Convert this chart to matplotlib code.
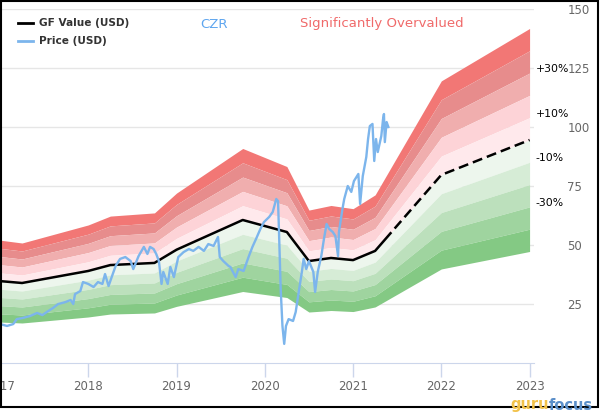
import numpy as np
import matplotlib
matplotlib.use('Agg')
import matplotlib.pyplot as plt
from matplotlib.lines import Line2D
from matplotlib.patches import Rectangle
import matplotlib.transforms as mtransforms

# GF Value (USD)
gf_dates = [2017.0, 2017.25, 2018.0, 2018.25, 2018.75, 2019.0, 2019.75, 2020.25,
            2020.5, 2020.75, 2021.0, 2021.25, 2022.0, 2023.0]
gf_vals = [34.7, 33.9, 39.0, 41.5, 42.4, 48.0, 60.6, 55.5,
           43.2, 44.5, 43.6, 47.5, 79.7, 94.5]
today = 2021.40

# Price (USD)
price_dates = [2017.00, 2017.08, 2017.15, 2017.19, 2017.26, 2017.34, 2017.42, 2017.48,
               2017.53, 2017.60, 2017.66, 2017.74, 2017.80, 2017.83, 2017.85, 2017.91,
               2017.94, 2018.00, 2018.06, 2018.11, 2018.16, 2018.19, 2018.23, 2018.27,
               2018.31, 2018.36, 2018.42, 2018.48, 2018.51, 2018.57, 2018.63, 2018.67,
               2018.70, 2018.74, 2018.77, 2018.80, 2018.83, 2018.85, 2018.90, 2018.93,
               2018.97, 2019.02, 2019.08, 2019.14, 2019.19, 2019.25, 2019.31, 2019.36,
               2019.42, 2019.47, 2019.49, 2019.53, 2019.59, 2019.61, 2019.67, 2019.70,
               2019.76, 2019.82, 2019.86, 2019.90, 2019.95, 2019.99, 2020.05, 2020.09,
               2020.13, 2020.15, 2020.16, 2020.18, 2020.20, 2020.22, 2020.24, 2020.27,
               2020.32, 2020.35, 2020.39, 2020.42, 2020.44, 2020.47, 2020.50, 2020.55,
               2020.57, 2020.60, 2020.64, 2020.67, 2020.70, 2020.73, 2020.77, 2020.80,
               2020.83, 2020.84, 2020.88, 2020.90, 2020.94, 2020.98, 2021.01, 2021.06,
               2021.08, 2021.11, 2021.15, 2021.17, 2021.19, 2021.22, 2021.24, 2021.26,
               2021.28, 2021.32, 2021.34, 2021.35, 2021.36, 2021.38, 2021.40]
price_vals = [16.5, 15.7, 16.5, 18.6, 19.1, 19.9, 21.2, 20.3,
              21.6, 23.3, 25.0, 25.8, 26.7, 25.0, 29.2, 30.5,
              34.3, 33.5, 32.2, 34.3, 33.5, 37.7, 32.6, 36.9,
              41.1, 44.1, 44.9, 43.2, 39.8, 45.3, 49.2, 46.2,
              49.2, 48.3, 46.2, 43.2, 33.5, 38.6, 33.5, 40.7,
              36.4, 44.9, 47.0, 48.3, 47.5, 49.2, 47.5, 50.4,
              49.6, 53.4, 44.9, 43.2, 41.1, 40.7, 36.4, 39.8,
              39.0, 45.3, 49.2, 52.5, 56.8, 59.7, 61.9, 64.0,
              69.5, 68.6, 56.8, 31.4, 15.7, 8.1, 15.7, 18.6,
              17.8, 21.6, 31.4, 38.6, 44.1, 39.8, 43.2, 38.6,
              30.1, 38.6, 45.3, 52.5, 58.9, 56.8, 55.5, 53.8,
              45.3, 55.5, 65.3, 69.5, 75.0, 72.5, 77.1, 80.1,
              67.4, 79.2, 87.3, 94.9, 100.4, 101.3, 85.6, 94.9,
              89.4, 96.2, 103.4, 105.5, 93.6, 102.1, 100.0]

# band edges as multiples of GF value, top (overvalued) to bottom
band_edges = [1.5, 1.4, 1.3, 1.2, 1.1, 1.0, 0.9, 0.8, 0.7, 0.6, 0.5]
band_colors = ['#F27775', '#E78C8C', '#F0AEAE', '#FDD3D7', '#FFE9EC',
               '#EDF6ED', '#D6ECD6', '#BCE0BC', '#9FD49F', '#84C984']
pct_labels = ['+30%', '+10%', '-10%', '-30%']
pct_levels = [1.3, 1.1, 0.9, 0.7]

years = [2017, 2018, 2019, 2020, 2021, 2022, 2023]
yticks = [25, 50, 75, 100, 125, 150]

gf_x = np.array(gf_dates)
gf_y = np.array(gf_vals)

fig = plt.figure(figsize=(6, 4.2), dpi=100)
ax = fig.add_axes([0.0, 1 - 363 / 420, 534 / 600, (363 - 9) / 420])

for i in range(len(band_colors)):
    ax.fill_between(gf_x, gf_y * band_edges[i + 1], gf_y * band_edges[i],
                    color=band_colors[i], linewidth=0, zorder=2)

# GF value: solid up to today, dashed afterwards
solid, = ax.plot(gf_x, gf_y, color='black', lw=1.8, zorder=4)
solid.set_clip_path(Rectangle((2000, -100), today - 2000, 500, transform=ax.transData))
dashed, = ax.plot(gf_x, gf_y, color='black', lw=1.8, ls=(0, (4, 2)), zorder=4)
dashed.set_clip_path(Rectangle((today, -100), 100, 500, transform=ax.transData))

ax.plot(price_dates, price_vals, color='#7CB5EC', lw=1.7, zorder=5)

ax.set_xlim(2017.0, 2023.05)
ax.set_ylim(0, 150)
ax.set_xticks(years)
ax.set_xticklabels([str(y) for y in years])
ax.set_yticks(yticks)
ax.yaxis.tick_right()
ax.grid(axis='y', color='#E6E6E6', lw=1, zorder=0)
ax.set_axisbelow(True)
for s in ['top', 'left', 'right']:
    ax.spines[s].set_visible(False)
ax.spines['bottom'].set_color('#CCD6EB')
ax.tick_params(axis='x', colors='#CCD6EB', length=10, width=1, labelcolor='#666666',
               labelsize=8.5, pad=2)
ax.tick_params(axis='y', length=0, labelcolor='#666666', labelsize=8.5, pad=24)

# percent labels at the right end of the bands
trans = mtransforms.blended_transform_factory(ax.transAxes, ax.transData)
for lab, lev in zip(pct_labels, pct_levels):
    ax.annotate(lab, xy=(1.0, gf_y[-1] * lev), xycoords=trans, xytext=(1, 3),
                textcoords='offset points', ha='left', va='center',
                fontsize=7.8, color='black', annotation_clip=False)

# legend
fig.add_artist(Line2D([18 / 600, 33 / 600], [1 - 23 / 420, 1 - 23 / 420], color='black', lw=2))
fig.add_artist(Line2D([18 / 600, 33 / 600], [1 - 41 / 420, 1 - 41 / 420], color='#7CB5EC', lw=2))
fig.text(39 / 600, 1 - 23 / 420, 'GF Value (USD)', fontsize=7.6, fontweight='bold',
         color='#333333', va='center')
fig.text(39 / 600, 1 - 41 / 420, 'Price (USD)', fontsize=7.6, fontweight='bold',
         color='#333333', va='center')

fig.text(200 / 600, 1 - 24 / 420, 'CZR', fontsize=9.5, color='#5DA5EF', va='center')
fig.text(300 / 600, 1 - 24 / 420, 'Significantly Overvalued', fontsize=9.5,
         color='#F06A6A', va='center')

# frame
fig.add_artist(Rectangle((0.001, 1 - 407 / 420), 597 / 600, 406 / 420, transform=fig.transFigure,
                         fill=False, edgecolor='black', lw=1.5))

# logo
fig.text(549 / 600, 1 - 405 / 420, 'guru', fontsize=10.5, fontweight='bold', color='#F2C24A',
         va='center', ha='right')
fig.text(549 / 600, 1 - 405 / 420, 'focus', fontsize=10.5, fontweight='bold', color='#5B8FC9',
         va='center', ha='left')

fig.savefig('out.png', dpi=100)
